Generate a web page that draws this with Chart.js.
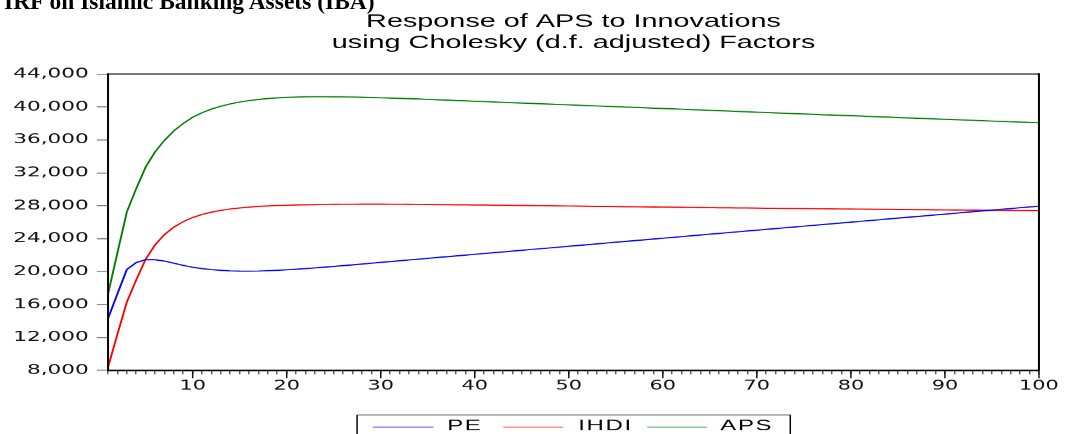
<!DOCTYPE html>
<html>
<head>
<meta charset="utf-8">
<title>Response of APS to Innovations</title>
<script src="https://cdn.jsdelivr.net/npm/chart.js@4.4.1/dist/chart.umd.min.js"></script>
<style>
  html, body { margin: 0; padding: 0; background: #fff; overflow: hidden; }
  #wrap { position: relative; width: 1066px; height: 434px; overflow: hidden; }
  #c { position: absolute; left: 0; top: 0; width: 1066px; height: 434px; }
  #heading {
    position: absolute; left: 4px; top: -11px; white-space: nowrap; color: #000;
    font: bold 23.5px/24px "Liberation Serif", "Times New Roman", serif;
  }
</style>
</head>
<body>
<div id="wrap">
  <canvas id="c" width="666" height="434" style="width:1066px;height:434px"></canvas>
  <div id="heading">IRF on Islamic Banking Assets (IBA)</div>
</div>
<script>
// Impulse-response horizon (periods)
const periods = [
  1, 2, 3, 4, 5, 6, 7, 8, 9, 10, 11, 12, 13, 14, 15, 16, 17, 18, 19, 20,
  21, 22, 23, 24, 25, 26, 27, 28, 29, 30, 31, 32, 33, 34, 35, 36, 37, 38, 39, 40,
  41, 42, 43, 44, 45, 46, 47, 48, 49, 50, 51, 52, 53, 54, 55, 56, 57, 58, 59, 60,
  61, 62, 63, 64, 65, 66, 67, 68, 69, 70, 71, 72, 73, 74, 75, 76, 77, 78, 79, 80,
  81, 82, 83, 84, 85, 86, 87, 88, 89, 90, 91, 92, 93, 94, 95, 96, 97, 98, 99, 100
];

// Response of APS to a shock in PE
const responsePE = [
  14300, 17300, 20250, 21100, 21450, 21450, 21280, 21020, 20750, 20530,
  20360, 20240, 20150, 20090, 20060, 20050, 20070, 20110, 20160, 20220,
  20290, 20370, 20450, 20540, 20630, 20720, 20820, 20920, 21020, 21120,
  21220, 21320, 21420, 21510, 21610, 21710, 21810, 21900, 22000, 22100,
  22200, 22300, 22390, 22490, 22590, 22690, 22790, 22880, 22980, 23080,
  23180, 23270, 23370, 23470, 23570, 23670, 23760, 23860, 23960, 24060,
  24150, 24250, 24350, 24450, 24550, 24640, 24740, 24840, 24940, 25030,
  25130, 25230, 25330, 25420, 25520, 25620, 25720, 25810, 25910, 26010,
  26110, 26200, 26300, 26400, 26500, 26590, 26690, 26790, 26890, 26980,
  27080, 27180, 27280, 27370, 27470, 27570, 27660, 27760, 27860, 27950
];

// Response of APS to a shock in IHDI
const responseIHDI = [
  8400, 12400, 16300, 19000, 21500, 23250, 24500, 25400, 26070, 26570,
  26940, 27220, 27440, 27610, 27740, 27840, 27920, 27980, 28030, 28070,
  28100, 28120, 28140, 28160, 28170, 28180, 28180, 28190, 28190, 28190,
  28180, 28180, 28170, 28160, 28150, 28140, 28130, 28120, 28110, 28100,
  28090, 28070, 28060, 28050, 28040, 28020, 28010, 28000, 27980, 27970,
  27960, 27940, 27930, 27920, 27900, 27890, 27880, 27860, 27850, 27840,
  27830, 27810, 27800, 27790, 27780, 27760, 27750, 27740, 27730, 27720,
  27700, 27690, 27680, 27670, 27660, 27650, 27630, 27620, 27610, 27600,
  27590, 27580, 27570, 27560, 27550, 27540, 27530, 27520, 27510, 27500,
  27490, 27480, 27470, 27460, 27450, 27440, 27430, 27420, 27410, 27400
];

// Response of APS to its own shock
const responseAPS = [
  17300, 22300, 27250, 30100, 32700, 34550, 35950, 37100, 38000, 38750,
  39300, 39750, 40100, 40380, 40600, 40780, 40920, 41030, 41110, 41170,
  41210, 41240, 41250, 41250, 41240, 41230, 41210, 41180, 41150, 41120,
  41090, 41050, 41010, 40970, 40930, 40880, 40840, 40790, 40750, 40700,
  40660, 40610, 40570, 40520, 40480, 40440, 40390, 40350, 40300, 40260,
  40220, 40170, 40130, 40080, 40040, 40000, 39950, 39910, 39860, 39820,
  39780, 39730, 39690, 39640, 39600, 39550, 39510, 39460, 39420, 39370,
  39330, 39280, 39240, 39190, 39150, 39110, 39060, 39020, 38980, 38940,
  38900, 38850, 38810, 38770, 38720, 38680, 38640, 38590, 38550, 38510,
  38470, 38420, 38380, 38340, 38290, 38250, 38210, 38160, 38120, 38080
];

const seriesNames = ['PE', 'IHDI', 'APS'];
const seriesColors = ['#0000FF', '#FF0000', '#008000'];

const yTickValues = [8000, 12000, 16000, 20000, 24000, 28000, 32000, 36000, 40000, 44000];
const xTickLabels = [10, 20, 30, 40, 50, 60, 70, 80, 90, 100];

const titleLines = ['Response of APS to Innovations', 'using Cholesky (d.f. adjusted) Factors'];

// The canvas works in a 666px-wide space that is shown 1066px wide.
const STRETCH = 1066 / 666;

// Title, plot frame, major x ticks and the boxed legend
const decorations = {
  id: 'decorations',
  afterDraw(chart) {
    const { ctx, chartArea: a, scales } = chart;
    ctx.save();

    // frame around the plot
    ctx.lineCap = 'butt';
    ctx.strokeStyle = '#555';
    ctx.lineWidth = 1.5;
    ctx.beginPath(); ctx.moveTo(a.left, a.top); ctx.lineTo(a.right, a.top); ctx.stroke();
    ctx.strokeStyle = '#000';
    ctx.beginPath(); ctx.moveTo(a.left, a.bottom); ctx.lineTo(a.right, a.bottom); ctx.stroke();
    ctx.lineWidth = 1.25;
    ctx.beginPath();
    ctx.moveTo(a.left, a.top - 0.75); ctx.lineTo(a.left, a.bottom + 0.75);
    ctx.moveTo(a.right, a.top - 0.75); ctx.lineTo(a.right, a.bottom + 0.75);
    ctx.stroke();

    // longer ticks at the labelled periods
    ctx.lineWidth = 0.9;
    ctx.strokeStyle = '#111';
    ctx.beginPath();
    xTickLabels.forEach(v => {
      const px = scales.x.getPixelForValue(v);
      ctx.moveTo(px, a.bottom); ctx.lineTo(px, a.bottom + 8);
    });
    ctx.stroke();

    // title
    ctx.fillStyle = '#000';
    ctx.font = '18px "Liberation Sans", Arial, sans-serif';
    ctx.textAlign = 'center';
    ctx.textBaseline = 'alphabetic';
    const cx = (a.left + a.right) / 2;
    ctx.fillText(titleLines[0], cx, 27);
    ctx.fillText(titleLines[1], cx, 48);

    // legend box
    const bl = 223.1, br = 493.75, bt = 414.5;
    ctx.strokeStyle = '#888';
    ctx.lineWidth = 1.2;
    ctx.beginPath(); ctx.moveTo(bl, bt); ctx.lineTo(br, bt); ctx.stroke();
    ctx.strokeStyle = '#000';
    ctx.lineWidth = 0.9;
    ctx.beginPath();
    ctx.moveTo(bl, bt); ctx.lineTo(bl, 440);
    ctx.moveTo(br, bt); ctx.lineTo(br, 440);
    ctx.stroke();

    const items = [
      { x0: 232.9, x1: 270.8, tx: 279.4 },
      { x0: 314.4, x1: 351.9, tx: 361.3 },
      { x0: 404.4, x1: 441.9, tx: 450.0 }
    ];
    ctx.textAlign = 'left';
    ctx.font = '15px "Liberation Sans", Arial, sans-serif';
    if ('letterSpacing' in ctx) ctx.letterSpacing = '1px';
    chart.data.datasets.forEach((ds, i) => {
      const it = items[i];
      ctx.strokeStyle = ds.borderColor;
      ctx.globalAlpha = 0.6;
      ctx.lineWidth = 1;
      ctx.beginPath(); ctx.moveTo(it.x0, 426.7); ctx.lineTo(it.x1, 426.7); ctx.stroke();
      ctx.globalAlpha = 1;
      ctx.fillStyle = '#000';
      ctx.fillText(ds.label, it.tx, 430);
    });
    ctx.restore();
  }
};

const datasets = [responsePE, responseIHDI, responseAPS].map((vals, i) => ({
  label: seriesNames[i],
  data: vals,
  borderColor: seriesColors[i],
  backgroundColor: seriesColors[i],
  borderWidth: 1.2,
  pointRadius: 0,
  tension: 0,
  fill: false
}));

new Chart(document.getElementById('c'), {
  type: 'line',
  data: { labels: periods, datasets },
  options: {
    responsive: false,
    animation: false,
    devicePixelRatio: STRETCH,
    layout: { padding: { top: 74, right: 16.9, bottom: 0, left: 0 } },
    plugins: { legend: { display: false }, title: { display: false }, tooltip: { enabled: false } },
    scales: {
      x: {
        type: 'linear',
        min: 1,
        max: 100,
        afterFit(s) { s.height = 64; },
        ticks: {
          stepSize: 1,
          autoSkip: false,
          maxRotation: 0,
          minRotation: 0,
          padding: 4,
          color: '#111',
          font: { family: '"DejaVu Sans", sans-serif', size: 13 },
          callback: v => (xTickLabels.includes(v) ? String(v) : '')
        },
        grid: { drawOnChartArea: false, tickLength: 4, tickColor: '#222', tickWidth: 0.65 },
        border: { display: false }
      },
      y: {
        min: 8000,
        max: 44000,
        afterFit(s) { s.width = 67.5; },
        afterBuildTicks(s) { s.ticks = yTickValues.map(v => ({ value: v })); },
        ticks: {
          padding: 5,
          color: '#111',
          font: { family: '"DejaVu Sans", sans-serif', size: 13.5 },
          callback: v => v.toLocaleString('en-US')
        },
        grid: { drawOnChartArea: false, tickLength: 7, tickColor: '#777', tickWidth: 1 },
        border: { display: false }
      }
    }
  },
  plugins: [decorations]
});
</script>
</body>
</html>
